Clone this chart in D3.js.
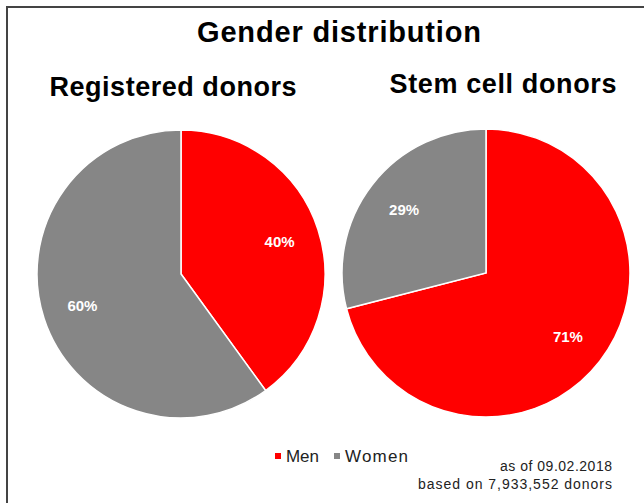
<!DOCTYPE html>
<html>
<head>
<meta charset="utf-8">
<script src="https://cdn.jsdelivr.net/npm/d3@7"></script>
<style>
  body { margin: 0; background: #fff; }
  svg { display: block; font-family: "Liberation Sans", Arial, sans-serif; }
</style>
</head>
<body>
<svg id="chart"></svg>
<script>
// data
const categories = ["Men", "Women"];
const registeredValues = [40, 60];
const stemCellValues = [71, 29];
const pieTitles = ["Registered donors", "Stem cell donors"];
const footnotes = ["as of  09.02.2018", "based on  7,933,552 donors"];

const width = 644, height = 503;

const svg = d3.select("#chart")
    .attr("width", width)
    .attr("height", height);

// outer frame (right and bottom edges run off the picture)
svg.append("rect")
    .attr("x", 7).attr("y", 7)
    .attr("width", 700).attr("height", 600)
    .attr("fill", "#fff")
    .attr("stroke", "#444")
    .attr("stroke-width", 2);

const color = d3.scaleOrdinal()
    .domain(categories)
    .range(["#ff0000", "#868686"]);

svg.append("text")
    .attr("x", 339).attr("y", 42)
    .attr("text-anchor", "middle")
    .attr("font-size", 29)
    .attr("font-weight", "bold")
    .attr("textLength", 284)
    .text("Gender distribution");

const pies = [
    {title: pieTitles[0], values: registeredValues, cx: 181, cy: 274, titleX: 173, titleY: 96, titleW: 247},
    {title: pieTitles[1], values: stemCellValues, cx: 486, cy: 273, titleX: 503, titleY: 93, titleW: 227}
];

const radius = 144;
const pie = d3.pie().sort(null).value(d => d.value);
const arc = d3.arc().innerRadius(0).outerRadius(radius);
const labelArc = d3.arc().innerRadius(radius * 0.72).outerRadius(radius * 0.72);

pies.forEach(p => {
    svg.append("text")
        .attr("x", p.titleX).attr("y", p.titleY)
        .attr("text-anchor", "middle")
        .attr("font-size", 27)
        .attr("font-weight", "bold")
        .attr("textLength", p.titleW)
        .text(p.title);

    const g = svg.append("g")
        .attr("transform", `translate(${p.cx},${p.cy})`);

    const slices = pie(categories.map((c, i) => ({name: c, value: p.values[i]})));

    g.selectAll("path")
        .data(slices)
        .join("path")
        .attr("d", arc)
        .attr("fill", d => color(d.data.name))
        .attr("stroke", "#fff")
        .attr("stroke-width", 1.5);

    g.selectAll("text")
        .data(slices)
        .join("text")
        .attr("transform", d => `translate(${labelArc.centroid(d)})`)
        .attr("text-anchor", "middle")
        .attr("dy", "0.35em")
        .attr("fill", "#fff")
        .attr("font-size", 15)
        .attr("font-weight", "bold")
        .text(d => d.data.value + "%");
});

// legend
const legendWidths = [33, 63];
const legend = svg.append("g").attr("transform", "translate(275,456)");
let lx = 0;
categories.forEach((c, i) => {
    legend.append("rect")
        .attr("x", lx).attr("y", -3)
        .attr("width", 6).attr("height", 6)
        .attr("fill", color(c));
    legend.append("text")
        .attr("x", lx + 11).attr("y", 6)
        .attr("font-size", 17)
        .attr("fill", "#222")
        .attr("textLength", legendWidths[i])
        .text(c);
    lx += 11 + legendWidths[i] + 15;
});

// footnote
const footWidths = [112, 194];
footnotes.forEach((f, i) => {
    svg.append("text")
        .attr("x", 612).attr("y", 471 + i * 18)
        .attr("text-anchor", "end")
        .attr("font-size", 14)
        .attr("fill", "#222")
        .attr("textLength", footWidths[i])
        .text(f);
});
</script>
</body>
</html>
